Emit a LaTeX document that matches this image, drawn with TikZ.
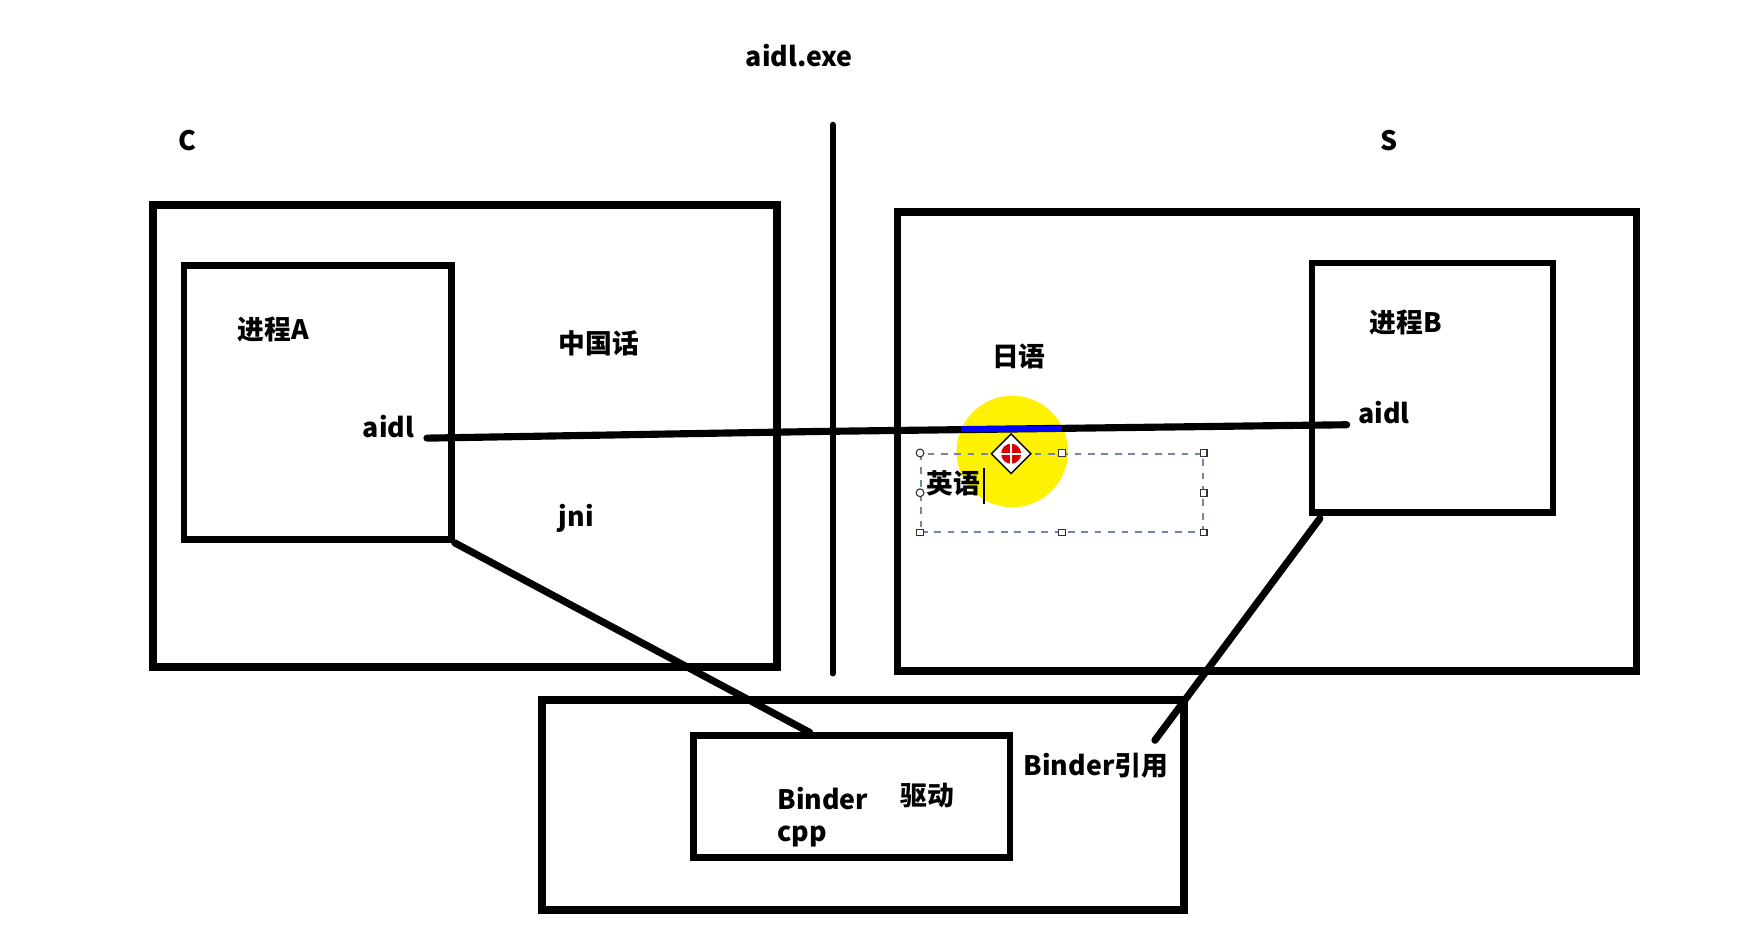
\documentclass[tikz,border=0pt]{standalone}
\usepackage{fontspec}
\setmainfont{Noto Sans CJK SC}
\usetikzlibrary{calc,shapes.geometric}
\definecolor{selblue}{RGB}{110,135,170}
\begin{document}
\begin{tikzpicture}[x=0.5pt,y=-0.5pt,
  lbl/.style={font=\bfseries\fontsize{12}{14}\selectfont, inner sep=0pt},
  outerbox/.style={draw, line width=3.5pt, rectangle, inner sep=0pt},
  innerbox/.style={draw, line width=3pt, rectangle, inner sep=0pt},
  wire/.style={line width=3.2pt, line cap=round},
  handle/.style={draw=black!80, fill=white, line width=0.5pt, rectangle, minimum size=3pt, inner sep=0pt},
  handlec/.style={draw=black!80, fill=white, line width=0.5pt, circle, minimum size=3.5pt, inner sep=0pt}]
\useasboundingbox (0,0) rectangle (1568,832);
\fill[white] (0,0) rectangle (1568,832);

% boxes
\node[outerbox, minimum width=280pt, minimum height=207pt] (cbox) at (417,391) {};
\node[innerbox, minimum width=120pt, minimum height=123pt] (proca) at (285,361) {};
\node[outerbox, minimum width=331.5pt, minimum height=206pt] (sbox) at (1136.5,396) {};
\node[innerbox, minimum width=108pt, minimum height=112pt] (procb) at (1285,348) {};
\node[outerbox, minimum width=288pt, minimum height=94pt] (bottom) at (774,722) {};
\node[innerbox, minimum width=142pt, minimum height=54.5pt] (binder) at (764,714.5) {};

% yellow highlight
\node[circle, fill=yellow, minimum size=50pt, inner sep=0pt] (hl) at (908,405) {};

% divider
\coordinate (vtop) at (747,112);
\coordinate (vbot) at (747,604);
\draw[line width=2.8pt, line cap=round] (vtop) -- (vbot);

% labels
\node[lbl] (aidlexe) at (717,50) {aidl.exe};
\node[lbl] (clbl) at (168,126) {C};
\node[lbl] (slbl) at (1246,126) {S};
\node[lbl] (pa) at (245,296) {进程A};
\node[lbl] (zh) at (537,308) {中国话};
\node[lbl, anchor=east] (aidla) at (372,383) {aidl};
\node[lbl] (jni) at (517,465) {jni};
\node[lbl] (pb) at (1261,289) {进程B};
\node[lbl, anchor=west] (aidlb) at (1218,370) {aidl};
\node[lbl] (ja) at (914,320) {日语};
\node[lbl, anchor=west] (b1) at (697,716) {Binder};
\node[lbl] (qd) at (832,714) {驱动};
\node[lbl, anchor=west] (cpp) at (697,750) {cpp};
\node[lbl] (bref) at (983,687) {Binder引用};

% main horizontal wire
\coordinate (ha) at (383,393);
\coordinate (hb) at (1208,381);
\coordinate (hk) at (735,387);
\draw[wire] (ha) -- (hk) -- (hb);
\coordinate (bl1) at (862,385);
\coordinate (bl2) at (953,385);
\draw[blue, line width=2.5pt] (bl1) -- (bl2);

% connectors to binder
\coordinate (bin) at ($(binder.north west)!0.37!(binder.north east)$);
\draw[wire] (proca.south east) -- (bin);
\coordinate (bfree) at (1036,664);
\draw[wire] ($(procb.south west)+(10,2)$) -- (bfree);

% selection box
\node[draw=selblue, dashed, line width=0.7pt, rectangle, inner sep=0pt,
      minimum width=126.5pt, minimum height=35pt] (sel) at (952.5,442) {};
\node[handlec] at (sel.north west) {};
\node[handlec] at (sel.west) {};
\node[handle] at (sel.south west) {};
\node[handle] at (sel.north) {};
\node[handle] at (sel.south) {};
\node[handle] at (sel.north east) {};
\node[handle] at (sel.east) {};
\node[handle] at (sel.south east) {};
\node[lbl, anchor=west] (en) at (831,434) {英语};
\draw[line width=0.8pt] (883,420) -- (883,452);

% move cursor icon
\node[diamond, draw=black, fill=white, line width=0.6pt, minimum size=18pt, inner sep=0pt] (mv) at (907,407) {};
\node[circle, fill=red!85!black, minimum size=9pt, inner sep=0pt] (mvc) at (907,407) {};
\draw[white, line width=1pt] (897,407) -- (917,407) (907,397) -- (907,417);
\end{tikzpicture}
\end{document}
